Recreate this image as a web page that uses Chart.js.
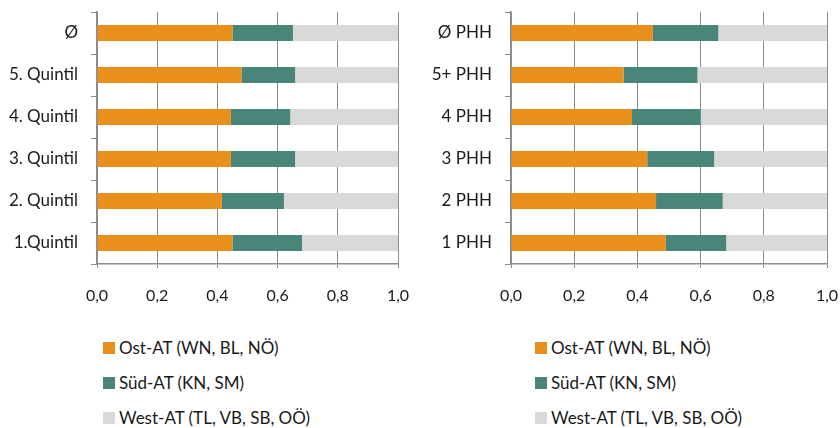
<!DOCTYPE html>
<html>
<head>
<meta charset="utf-8">
<script src="https://cdn.jsdelivr.net/npm/chart.js@4/dist/chart.umd.min.js"></script>
<style>
  html, body { margin: 0; padding: 0; background: #fff; }
  body { width: 840px; height: 428px; position: relative; overflow: hidden; font-family: Lato, "Open Sans", sans-serif; }
  .panel { position: absolute; top: 0; height: 320px; }
  .legend { position: absolute; top: 330px; font-size: 17px; color: #1a1a1a; }
  .legend div { height: 35px; display: flex; align-items: center; white-space: nowrap; }
  .legend span.box { display: inline-block; width: 12px; height: 12px; margin-right: 4px; }
</style>
</head>
<body>
<div class="panel" style="left:0; width:420px"><canvas id="quintile"></canvas></div>
<div class="panel" style="left:420px; width:440px"><canvas id="haushalte"></canvas></div>
<div class="legend" id="legendLeft" style="left:103px"></div>
<div class="legend" id="legendRight" style="left:535px"></div>
<script>
// Regional shares by income quintile
const quintilLabels = ['Ø', '5. Quintil', '4. Quintil', '3. Quintil', '2. Quintil', '1.Quintil'];
const quintilOst  = [0.450, 0.480, 0.445, 0.445, 0.415, 0.450];
const quintilSued = [0.201, 0.178, 0.197, 0.213, 0.206, 0.231];
const quintilWest = [0.349, 0.342, 0.358, 0.342, 0.379, 0.319];

// Regional shares by number of persons in household
const phhLabels = ['Ø PHH', '5+ PHH', '4 PHH', '3 PHH', '2 PHH', '1 PHH'];
const phhOst  = [0.449, 0.356, 0.383, 0.431, 0.459, 0.490];
const phhSued = [0.207, 0.234, 0.217, 0.212, 0.211, 0.191];
const phhWest = [0.344, 0.410, 0.400, 0.357, 0.330, 0.319];

const seriesNames = ['Ost-AT (WN, BL, NÖ)', 'Süd-AT (KN, SM)', 'West-AT (TL, VB, SB, OÖ)'];
const seriesColors = ['#E88F1C', '#4A8579', '#D9D9D9'];
const xTickLabels = ['0,0', '0,2', '0,4', '0,6', '0,8', '1,0'];

const FONT_X = { family: 'Lato, "Open Sans", sans-serif', size: 16 };
const FONT_Y = { family: 'Lato, "Open Sans", sans-serif', size: 17 };
const AXIS_GREY = '#8c8c8c';

function makeChart(id, labels, series, yWidth, padRight) {
  return new Chart(document.getElementById(id), {
    type: 'bar',
    data: {
      labels: labels,
      datasets: series.map((values, i) => ({
        label: seriesNames[i],
        data: values,
        backgroundColor: seriesColors[i],
        borderWidth: 0,
        categoryPercentage: 0.8,
        barPercentage: 0.48
      }))
    },
    options: {
      indexAxis: 'y',
      responsive: true,
      maintainAspectRatio: false,
      animation: false,
      layout: { padding: { top: 12, right: padRight, bottom: 0, left: 0 } },
      plugins: { legend: { display: false }, tooltip: { enabled: false } },
      scales: {
        x: {
          stacked: true,
          min: 0, max: 1,
          afterFit: s => {
            s.height = 56;
            s.paddingLeft = 0; s.paddingRight = 0;
          },
          afterBuildTicks: s => { s.ticks = xTickLabels.map((t, i) => ({ value: i * 0.2 })); },
          ticks: {
            color: '#1a1a1a', font: FONT_X, padding: 18, maxRotation: 0,
            callback: (v, i) => xTickLabels[i]
          },
          grid: { color: AXIS_GREY, lineWidth: 1, tickLength: 4, drawOnChartArea: true },
          border: { color: AXIS_GREY, width: 1.5 }
        },
        y: {
          stacked: true,
          afterFit: s => {
            s.width = yWidth;
            s.paddingTop = 0; s.paddingBottom = 0;
          },
          ticks: { color: '#1a1a1a', font: FONT_Y, padding: 13 },
          grid: { offset: true, drawOnChartArea: false, color: AXIS_GREY, tickLength: 6 },
          border: { color: AXIS_GREY, width: 1.5 }
        }
      }
    }
  });
}

makeChart('quintile', quintilLabels, [quintilOst, quintilSued, quintilWest], 97, 22);
makeChart('haushalte', phhLabels, [phhOst, phhSued, phhWest], 91, 33);

// Legends listed one entry per line below each chart
function buildLegend(id) {
  const el = document.getElementById(id);
  seriesNames.forEach((name, i) => {
    const row = document.createElement('div');
    const box = document.createElement('span');
    box.className = 'box';
    box.style.background = seriesColors[i];
    row.appendChild(box);
    row.appendChild(document.createTextNode(name));
    el.appendChild(row);
  });
}
buildLegend('legendLeft');
buildLegend('legendRight');
</script>
</body>
</html>
